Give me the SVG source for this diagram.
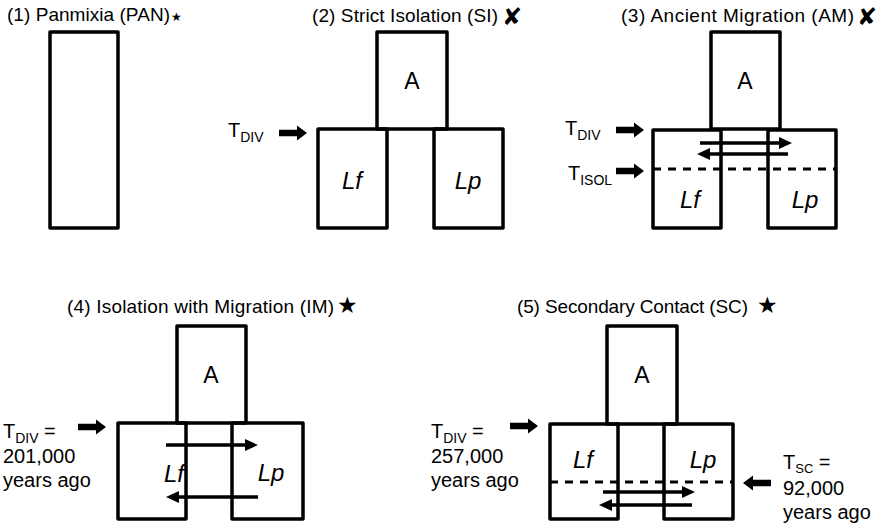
<svg xmlns="http://www.w3.org/2000/svg" width="879" height="526" viewBox="0 0 879 526">
<style>
text{font-family:"Liberation Sans",Arial,sans-serif;fill:#000}
.title{font-size:19px}
.lbl{font-size:20px}
.sub{font-size:14px}
.A{font-size:23px;text-anchor:middle}
.pop{font-size:24px;font-style:italic;text-anchor:middle}
.sym{font-family:"DejaVu Sans",sans-serif}
.box{fill:none;stroke:#000;stroke-width:3.5;stroke-linejoin:round}
.dash{fill:none;stroke:#000;stroke-width:3;stroke-dasharray:8 7}
.mig{fill:none;stroke:#000;stroke-width:3.5;marker-end:url(#ah)}
</style>
<defs>
<marker id="ah" markerUnits="userSpaceOnUse" markerWidth="13" markerHeight="12" refX="1" refY="6" orient="auto">
<path d="M0,0 L13,6 L0,12 Z" fill="#000"/>
</marker>
<path id="blk" d="M-28,-3.2 H-10 V-7.5 L0,0 L-10,7.5 V3.2 H-28 Z" fill="#000"/>
</defs>
<rect width="879" height="526" fill="#fff"/>

<!-- Titles -->
<text class="title" x="7" y="21" textLength="163">(1) Panmixia (PAN)</text>
<text class="sym" x="171" y="21" font-size="12">★</text>
<text class="title" x="312" y="22" textLength="186">(2) Strict Isolation (SI)</text>
<text class="sym" x="502" y="25" font-size="24">✘</text>
<text class="title" x="621" y="22" textLength="233">(3) Ancient Migration (AM)</text>
<text class="sym" x="857" y="25" font-size="24">✘</text>
<text class="title" x="67" y="313" textLength="267">(4) Isolation with Migration (IM)</text>
<text class="sym" x="337" y="313" font-size="23">★</text>
<text class="title" x="517" y="313" textLength="231">(5) Secondary Contact (SC)</text>
<text class="sym" x="757" y="313" font-size="23">★</text>

<!-- Panel 1 -->
<g id="p1-pan"><rect class="box" x="50" y="32" width="68" height="196"/></g>

<!-- Panel 2 -->
<g id="p2-A"><rect class="box" x="377" y="32" width="70" height="97"/><text class="A" x="412" y="89">A</text></g>
<g id="p2-Lf"><rect class="box" x="318" y="129" width="69" height="99"/><text class="pop" x="352" y="189">Lf</text></g>
<g id="p2-Lp"><rect class="box" x="434" y="129" width="69" height="99"/><text class="pop" x="468" y="189">Lp</text></g>
<text class="lbl" x="228" y="137">T<tspan class="sub" dy="5">DIV</tspan></text>

<!-- Panel 3 -->
<g id="p3-A"><rect class="box" x="711" y="32" width="69" height="97"/><text class="A" x="745" y="89">A</text></g>
<g id="p3-Lf"><rect class="box" x="653" y="130" width="68" height="98"/><text class="pop" x="690" y="208">Lf</text></g>
<g id="p3-Lp"><rect class="box" x="768" y="130" width="68" height="98"/><text class="pop" x="805" y="208">Lp</text></g>
<line class="dash" x1="653" y1="169" x2="836" y2="169"/>
<text class="lbl" x="565" y="135">T<tspan class="sub" dy="5">DIV</tspan></text>
<text class="lbl" x="568" y="180">T<tspan class="sub" dy="5">ISOL</tspan></text>

<!-- Panel 4 -->
<g id="p4-A"><rect class="box" x="177" y="326" width="69" height="97"/><text class="A" x="211" y="383">A</text></g>
<g id="p4-Lf"><rect class="box" x="118" y="423" width="68" height="96"/><text class="pop" x="174" y="482">Lf</text></g>
<g id="p4-Lp"><rect class="box" x="232" y="423" width="71" height="96"/><text class="pop" x="271" y="481">Lp</text></g>
<text class="lbl" x="3" y="438">T<tspan class="sub" dy="5">DIV</tspan><tspan dy="-5"> =</tspan></text>
<text class="lbl" x="3" y="463">201,000</text>
<text class="lbl" x="3" y="487">years ago</text>

<!-- Panel 5 -->
<g id="p5-A"><rect class="box" x="607" y="326" width="70" height="98"/><text class="A" x="642" y="383">A</text></g>
<g id="p5-Lf"><rect class="box" x="550" y="424" width="68" height="95"/><text class="pop" x="583" y="468">Lf</text></g>
<g id="p5-Lp"><rect class="box" x="664" y="424" width="69" height="95"/><text class="pop" x="703" y="468">Lp</text></g>
<line class="dash" x1="550" y1="482" x2="733" y2="482"/>
<text class="lbl" x="431" y="438">T<tspan class="sub" dy="5">DIV</tspan><tspan dy="-5"> =</tspan></text>
<text class="lbl" x="431" y="463">257,000</text>
<text class="lbl" x="431" y="487">years ago</text>
<text class="lbl" x="783" y="469">T<tspan font-size="13" dy="4">SC</tspan><tspan dy="-4"> =</tspan></text>
<text class="lbl" x="783" y="495">92,000</text>
<text class="lbl" x="783" y="519">years ago</text>

<!-- Connectors -->
<g id="connectors">
<use href="#blk" transform="translate(307,133)"/>
<use href="#blk" transform="translate(644,130)"/>
<use href="#blk" transform="translate(644,171)"/>
<use href="#blk" transform="translate(106,427)"/>
<use href="#blk" transform="translate(538,426)"/>
<use href="#blk" transform="translate(743,483) scale(-1,1)"/>
<line class="mig" x1="700" y1="143" x2="780" y2="143"/>
<line class="mig" x1="788" y1="154" x2="709" y2="154"/>
<line class="mig" x1="166" y1="445" x2="246" y2="445"/>
<line class="mig" x1="258" y1="497" x2="178" y2="497"/>
<line class="mig" x1="603" y1="492" x2="683" y2="492"/>
<line class="mig" x1="692" y1="505" x2="611" y2="505"/>
</g>
</svg>
